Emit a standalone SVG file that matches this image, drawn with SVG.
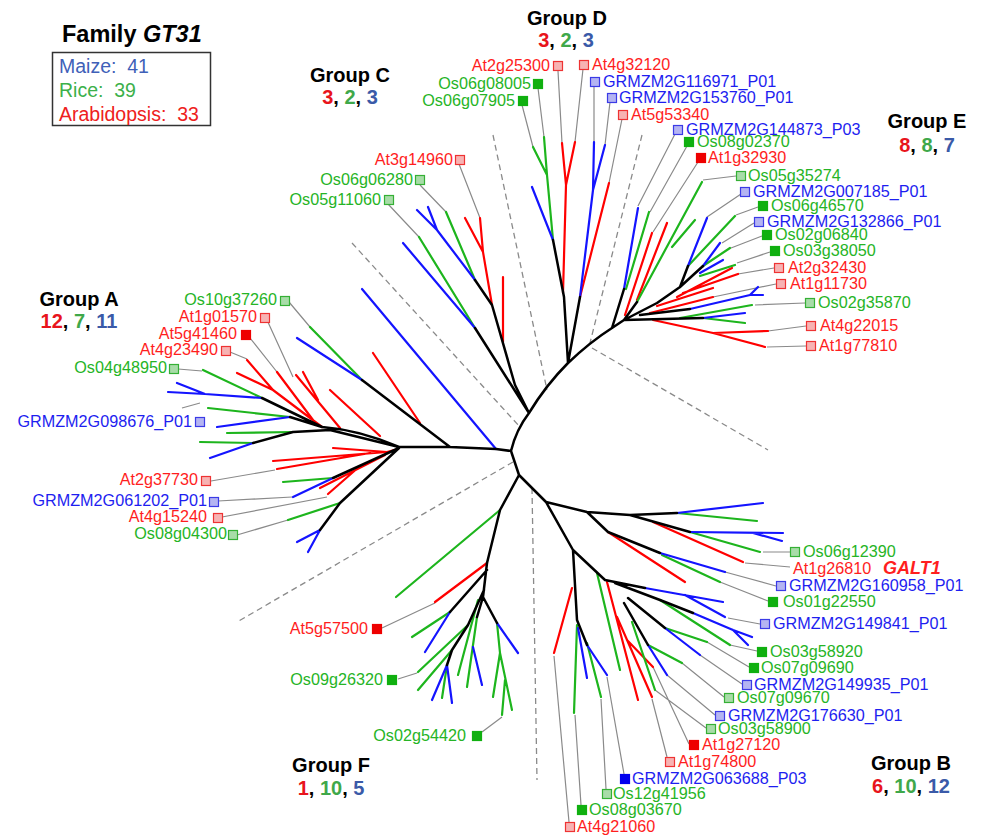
<svg xmlns="http://www.w3.org/2000/svg" width="981" height="837" viewBox="0 0 981 837">
<style>
text{font-family:"Liberation Sans",Arial,sans-serif;font-size:16.2px}
.k,.r,.g,.b{fill:none;stroke-width:2.2;stroke-linecap:round;stroke-linejoin:round}
.k{stroke:#000;stroke-width:2.5}
.r{stroke:#ff0000}
.g{stroke:#1db51d}
.b{stroke:#1414ff}
.l{fill:none;stroke:#8a8a8a;stroke-width:1.2}
.d{fill:none;stroke:#8a8a8a;stroke-width:1.3;stroke-dasharray:6 4}
.tr{fill:#ff1e1e}.tg{fill:#26b426}.tb{fill:#1e1ef0}
.e{text-anchor:end}
.pr{fill:#f7b3b3;stroke:#ee3333;stroke-width:1.2}
.sr{fill:#ee0000;stroke:#ee0000;stroke-width:1.2}
.pg{fill:#a8dca8;stroke:#35b035;stroke-width:1.2}
.sg{fill:#10b010;stroke:#10b010;stroke-width:1.2}
.pb{fill:#b4b4f2;stroke:#3b3be6;stroke-width:1.2}
.sb{fill:#0000ee;stroke:#0000ee;stroke-width:1.2}
.h{font-weight:bold;font-size:20px;text-anchor:middle;fill:#000}
.cr{fill:#e8141c}.cg{fill:#3fa84a}.cb{fill:#3a5aa8}
</style>

<g id="legend">
<text x="62" y="42" font-weight="bold" style="font-size:23.5px">Family <tspan font-style="italic">GT31</tspan></text>
<rect x="52.5" y="52.5" width="158" height="73" fill="none" stroke="#333" stroke-width="1.5"/>
<text x="59" y="73" xml:space="preserve" style="font-size:19.5px;fill:#4060b8">Maize:  41</text>
<text x="59" y="97" xml:space="preserve" style="font-size:19.5px;fill:#3cb04a">Rice:  39</text>
<text x="59" y="121" xml:space="preserve" style="font-size:19.5px;fill:#ee2020">Arabidopsis:  33</text>
</g>

<g id="group-labels">
<text class="h" x="79" y="306">Group A</text>
<text class="h" x="79" y="328"><tspan class="cr">12</tspan>, <tspan class="cg">7</tspan>, <tspan class="cb">11</tspan></text>
<text class="h" x="350" y="82">Group C</text>
<text class="h" x="350" y="104"><tspan class="cr">3</tspan>, <tspan class="cg">2</tspan>, <tspan class="cb">3</tspan></text>
<text class="h" x="567" y="25">Group D</text>
<text class="h" x="566" y="47"><tspan class="cr">3</tspan>, <tspan class="cg">2</tspan>, <tspan class="cb">3</tspan></text>
<text class="h" x="927" y="128">Group E</text>
<text class="h" x="927" y="152"><tspan class="cr">8</tspan>, <tspan class="cg">8</tspan>, <tspan class="cb">7</tspan></text>
<text class="h" x="331" y="772">Group F</text>
<text class="h" x="331" y="795"><tspan class="cr">1</tspan>, <tspan class="cg">10</tspan>, <tspan class="cb">5</tspan></text>
<text class="h" x="911" y="770">Group B</text>
<text class="h" x="911" y="793"><tspan class="cr">6</tspan>, <tspan class="cg">10</tspan>, <tspan class="cb">12</tspan></text>
</g>

<g id="connectors">
<path class="d" d="M493,135 L547,390 M642,135 L590,343 M592,348 L768,450 M532,488 L537,780 M513,462 L237,622 M352,243 L520,427"/>
<path class="l" d="M558,71 L562,143 M583,69 L575,142 M538,88 L544,137 M522,105 L533,147 M594,86 L594,142 M610,102 L605,145 M622,119 L609,183
M459,164 L480,218 M420,185 L446,212 M388,204 L419,237
M675,134 L638,206 M687,146 L650,212 M698,162 L653,232 M736,176 L703,180 M741,194 L707,217 M758,207 L736,215 M754,223 L722,243 M762,236 L731,248 M770,252 L737,263 M774,268 L738,274 M776,284 L713,297 M805,303 L755,305 M806,326 L768,331 M806,346 L767,347
M790,552 L763,552 M790,567 L745,563 M776,586 L725,572 M768,601 L720,582 M760,624 L728,618 M757,651 L730,645 M749,667 L707,642 M742,684 L700,655 M724,697 L682,663 M715,715 L667,675 M706,728 L655,690 M689,744 L653,667 M667,757 L652,699 M624,774 L607,677 M606,789 L601,699 M581,805 L575,715 M569,822 L554,656
M382,628 L435,603 M398,679 L417,673 M482,732 L502,717
M289,302 L310,327 M267,320 L293,377 M250,338 L277,372 M230,352 L247,359 M178,369 L202,371 M182,408 L200,403 M211,481 L275,470 M218,501 L292,497 M222,517 L327,497 M237,535 L288,520"/>

<path class="r" d="M563,293 L566,185 L562,143 M566,185 L575,142 M580,297 L609,183
M503,342 L503,277 M492,305 L483,252 L480,218 M483,252 L465,218
M625,315 L652,233 M637,300 L667,223 M677,297 L732,268 M683,293 L738,274 M657,306 L713,288 M650,313 L713,297 M653,320 L713,333 L768,331 M713,333 L765,347
M653,522 L743,562 M608,532 L685,582 M607,582 L638,700 M617,617 L652,697 M627,640 L653,667 M572,588 L554,653
M487,563 L435,602
M420,423 L373,353 M340,428 L296,375 M318,400 L303,372 M313,420 L277,372 M322,427 L273,390 L247,360 M273,390 L237,373 M380,436 L330,390
M398,449 L387,452 L273,461 M387,452 L333,448 M370,453 L277,469 M385,455 L320,488 M360,466 L328,494"/>

<path class="g" d="M553,240 L547,175 L544,137 M547,175 L533,147
M475,328 L419,237 M475,280 L446,212
M626,289 L649,212 M637,302 L702,182 M672,247 L695,220 M688,266 L735,216 M703,266 L730,248 M700,276 L735,265 M680,318 L752,305 M703,318 L745,323
M677,513 L757,521 M690,532 L760,552 M662,555 L720,582 M660,600 L730,645 M665,628 L707,642 M648,645 L682,663 M632,622 L655,690 M597,573 L620,670 M577,625 L574,713 M587,643 L601,697
M500,510 L396,597 M450,612 L412,637 M468,625 L418,672 M452,650 L418,690 M447,665 L442,698 M477,617 L467,687 M478,600 L458,675 M497,623 L500,653 L493,697 M500,653 L512,710 M505,680 L502,715
M362,380 L310,327 M262,398 L203,370 M290,417 L208,408 M293,432 L227,433 M253,443 L200,442 M333,478 L283,482 M340,503 L288,520"/>

<path class="b" d="M580,297 L593,190 L594,142 M593,190 L605,145 M553,240 L532,187
M475,328 L403,243 M475,280 L437,230 L417,210 M437,230 L428,207
M624,289 L638,208 M688,266 L707,218 M703,266 L720,243 M700,273 L723,260 M690,309 L750,295 L758,287 M750,295 L763,295 M703,318 L745,313
M677,513 L763,503 M690,532 L783,533 M753,533 L782,541 M660,553 L725,572 M645,588 L723,602 M685,595 L725,617 M693,613 L733,630 L752,637 M733,630 L748,645 M665,628 L700,655 M648,645 L667,675 M578,628 L587,678 M587,645 L607,675
M450,612 L425,652 M447,665 L432,700 M447,665 L452,703 M473,647 L482,685 M497,623 L518,653
M496,449 L362,289 M362,380 L297,338 M262,398 L205,394 L177,383 M205,394 L168,392 M290,417 L217,427 M253,443 L210,458 M333,478 L293,497 M320,530 L297,542 M320,530 L308,552"/>

<path class="k" d="M399,447 L450,447 L496,449 L511,451 M511,451 Q516,430 529,413 Q546,385 568,363 Q590,342 612,328 L624,320
M511,451 L519,475 L546,502 M519,475 L500,510 L487,563 L483,597
M529,413 L475,328 M529,413 L515,385 L492,305 L475,280
M568,363 L580,297 M568,363 L564,297 L553,240
M612,328 L624,289 M624,320 L703,318 M624,320 L657,303 L680,287 L703,266 M680,287 L688,266 M624,320 L637,302 M640,315 L690,309
M546,502 L587,512 L630,515 L677,513 M630,515 L690,532 M587,512 L608,532 L660,553 M546,502 L573,550 L577,620 L587,645 M573,550 L605,580 L645,588 M615,583 L660,600 L693,613 M628,598 L665,628 M624,603 L648,645
M487,570 L450,612 M484,590 L468,625 L452,650 L447,665 M483,597 L477,617 M483,597 L497,623
M450,447 L362,380 M399,447 Q360,430 322,427 L290,417 M322,427 L262,398 M399,447 L330,430 L293,432 L253,443 M399,448 L333,478 M399,448 L340,503 L320,530"/>
</g>

<g id="At2g25300"><rect class="pr" x="553.5" y="61.5" width="9" height="9"/><text class="tr e" x="550" y="71">At2g25300</text></g>
<g id="At4g32120"><rect class="pr" x="579.5" y="60.5" width="9" height="9"/><text class="tr" x="592" y="70">At4g32120</text></g>
<g id="Os06g08005"><rect class="sg" x="533.5" y="79.5" width="9" height="9"/><text class="tg e" x="531" y="89">Os06g08005</text></g>
<g id="Os06g07905"><rect class="sg" x="518.5" y="96.5" width="9" height="9"/><text class="tg e" x="515" y="106">Os06g07905</text></g>
<g id="GRMZM2G116971_P01"><rect class="pb" x="590.5" y="77.5" width="9" height="9"/><text class="tb" x="603" y="87">GRMZM2G116971_P01</text></g>
<g id="GRMZM2G153760_P01"><rect class="pb" x="607.5" y="93.5" width="9" height="9"/><text class="tb" x="619" y="103">GRMZM2G153760_P01</text></g>
<g id="At5g53340"><rect class="pr" x="618.5" y="110.5" width="9" height="9"/><text class="tr" x="631" y="120">At5g53340</text></g>
<g id="At3g14960"><rect class="pr" x="455.5" y="155.5" width="9" height="9"/><text class="tr e" x="453" y="165">At3g14960</text></g>
<g id="Os06g06280"><rect class="pg" x="415.5" y="175.5" width="9" height="9"/><text class="tg e" x="413" y="185">Os06g06280</text></g>
<g id="Os05g11060"><rect class="pg" x="384.5" y="195.5" width="9" height="9"/><text class="tg e" x="381" y="205">Os05g11060</text></g>

<g id="GRMZM2G144873_P03"><rect class="pb" x="673.5" y="125.5" width="9" height="9"/><text class="tb" x="686" y="135">GRMZM2G144873_P03</text></g>
<g id="Os08g02370"><rect class="sg" x="684.5" y="137.5" width="9" height="9"/><text class="tg" x="697" y="147">Os08g02370</text></g>
<g id="At1g32930"><rect class="sr" x="696.5" y="153.5" width="9" height="9"/><text class="tr" x="708" y="163">At1g32930</text></g>
<g id="Os05g35274"><rect class="pg" x="736.5" y="171.5" width="9" height="9"/><text class="tg" x="748" y="181">Os05g35274</text></g>
<g id="GRMZM2G007185_P01"><rect class="pb" x="740.5" y="187.5" width="9" height="9"/><text class="tb" x="753" y="197">GRMZM2G007185_P01</text></g>
<g id="Os06g46570"><rect class="sg" x="758.5" y="201.5" width="9" height="9"/><text class="tg" x="771" y="211">Os06g46570</text></g>
<g id="GRMZM2G132866_P01"><rect class="pb" x="754.5" y="217.5" width="9" height="9"/><text class="tb" x="767" y="227">GRMZM2G132866_P01</text></g>
<g id="Os02g06840"><rect class="sg" x="762.5" y="230.5" width="9" height="9"/><text class="tg" x="775" y="240">Os02g06840</text></g>
<g id="Os03g38050"><rect class="sg" x="770.5" y="246.5" width="9" height="9"/><text class="tg" x="783" y="256">Os03g38050</text></g>
<g id="At2g32430"><rect class="pr" x="774.5" y="263.5" width="9" height="9"/><text class="tr" x="788" y="273">At2g32430</text></g>
<g id="At1g11730"><rect class="pr" x="776.5" y="279.5" width="9" height="9"/><text class="tr" x="790" y="289">At1g11730</text></g>
<g id="Os02g35870"><rect class="pg" x="805.5" y="298.5" width="9" height="9"/><text class="tg" x="818" y="308">Os02g35870</text></g>
<g id="At4g22015"><rect class="pr" x="806.5" y="321.5" width="9" height="9"/><text class="tr" x="820" y="331">At4g22015</text></g>
<g id="At1g77810"><rect class="pr" x="806.5" y="341.5" width="9" height="9"/><text class="tr" x="819" y="351">At1g77810</text></g>

<g id="Os06g12390"><rect class="pg" x="790.5" y="547.5" width="9" height="9"/><text class="tg" x="803" y="557">Os06g12390</text></g>
<g id="At1g26810"><text class="tr" x="793" y="574">At1g26810</text><text class="tr" x="883" y="574" font-weight="bold" font-style="italic" style="font-size:18px">GALT1</text></g>
<g id="GRMZM2G160958_P01"><rect class="pb" x="776.5" y="581.5" width="9" height="9"/><text class="tb" x="789" y="591">GRMZM2G160958_P01</text></g>
<g id="Os01g22550"><rect class="sg" x="768.5" y="597.5" width="9" height="9"/><text class="tg" x="783" y="607">Os01g22550</text></g>
<g id="GRMZM2G149841_P01"><rect class="pb" x="760.5" y="619.5" width="9" height="9"/><text class="tb" x="773" y="629">GRMZM2G149841_P01</text></g>
<g id="Os03g58920"><rect class="sg" x="757.5" y="647.5" width="9" height="9"/><text class="tg" x="770" y="657">Os03g58920</text></g>
<g id="Os07g09690"><rect class="sg" x="749.5" y="663.5" width="9" height="9"/><text class="tg" x="761" y="673">Os07g09690</text></g>
<g id="GRMZM2G149935_P01"><rect class="pb" x="742.5" y="680.5" width="9" height="9"/><text class="tb" x="754" y="690">GRMZM2G149935_P01</text></g>
<g id="Os07g09670"><rect class="pg" x="724.5" y="693.5" width="9" height="9"/><text class="tg" x="737" y="703">Os07g09670</text></g>
<g id="GRMZM2G176630_P01"><rect class="pb" x="715.5" y="711.5" width="9" height="9"/><text class="tb" x="728" y="721">GRMZM2G176630_P01</text></g>
<g id="Os03g58900"><rect class="pg" x="706.5" y="724.5" width="9" height="9"/><text class="tg" x="718" y="734">Os03g58900</text></g>
<g id="At1g27120"><rect class="sr" x="689.5" y="740.5" width="9" height="9"/><text class="tr" x="702" y="750">At1g27120</text></g>
<g id="At1g74800"><rect class="pr" x="665.5" y="757.5" width="9" height="9"/><text class="tr" x="678" y="767">At1g74800</text></g>
<g id="GRMZM2G063688_P03"><rect class="sb" x="620.5" y="774.5" width="9" height="9"/><text class="tb" x="632" y="784">GRMZM2G063688_P03</text></g>
<g id="Os12g41956"><rect class="pg" x="602.5" y="789.5" width="9" height="9"/><text class="tg" x="613" y="799">Os12g41956</text></g>
<g id="Os08g03670"><rect class="sg" x="577.5" y="805.5" width="9" height="9"/><text class="tg" x="589" y="815">Os08g03670</text></g>
<g id="At4g21060"><rect class="pr" x="565.5" y="822.5" width="9" height="9"/><text class="tr" x="577" y="832">At4g21060</text></g>

<g id="At5g57500"><rect class="sr" x="372.5" y="624.5" width="9" height="9"/><text class="tr e" x="368" y="634">At5g57500</text></g>
<g id="Os09g26320"><rect class="sg" x="387.5" y="675.5" width="9" height="9"/><text class="tg e" x="383" y="685">Os09g26320</text></g>
<g id="Os02g54420"><rect class="sg" x="472.5" y="731.5" width="9" height="9"/><text class="tg e" x="466" y="741">Os02g54420</text></g>

<g id="Os10g37260"><rect class="pg" x="280.5" y="296.5" width="9" height="9"/><text class="tg e" x="277" y="305">Os10g37260</text></g>
<g id="At1g01570"><rect class="pr" x="260.5" y="313.5" width="9" height="9"/><text class="tr e" x="257" y="322">At1g01570</text></g>
<g id="At5g41460"><rect class="sr" x="241.5" y="330.5" width="9" height="9"/><text class="tr e" x="237" y="339">At5g41460</text></g>
<g id="At4g23490"><rect class="pr" x="221.5" y="346.5" width="9" height="9"/><text class="tr e" x="218" y="355">At4g23490</text></g>
<g id="Os04g48950"><rect class="pg" x="169.5" y="364.5" width="9" height="9"/><text class="tg e" x="167" y="373">Os04g48950</text></g>
<g id="GRMZM2G098676_P01"><rect class="pb" x="195.5" y="417.5" width="9" height="9"/><text class="tb e" x="192" y="427">GRMZM2G098676_P01</text></g>
<g id="At2g37730"><rect class="pr" x="201.5" y="476.5" width="9" height="9"/><text class="tr e" x="198" y="485">At2g37730</text></g>
<g id="GRMZM2G061202_P01"><rect class="pb" x="209.5" y="497.5" width="9" height="9"/><text class="tb e" x="207" y="506">GRMZM2G061202_P01</text></g>
<g id="At4g15240"><rect class="pr" x="213.5" y="513.5" width="9" height="9"/><text class="tr e" x="207" y="522">At4g15240</text></g>
<g id="Os08g04300"><rect class="pg" x="228.5" y="530.5" width="9" height="9"/><text class="tg e" x="227" y="539">Os08g04300</text></g>
</svg>
